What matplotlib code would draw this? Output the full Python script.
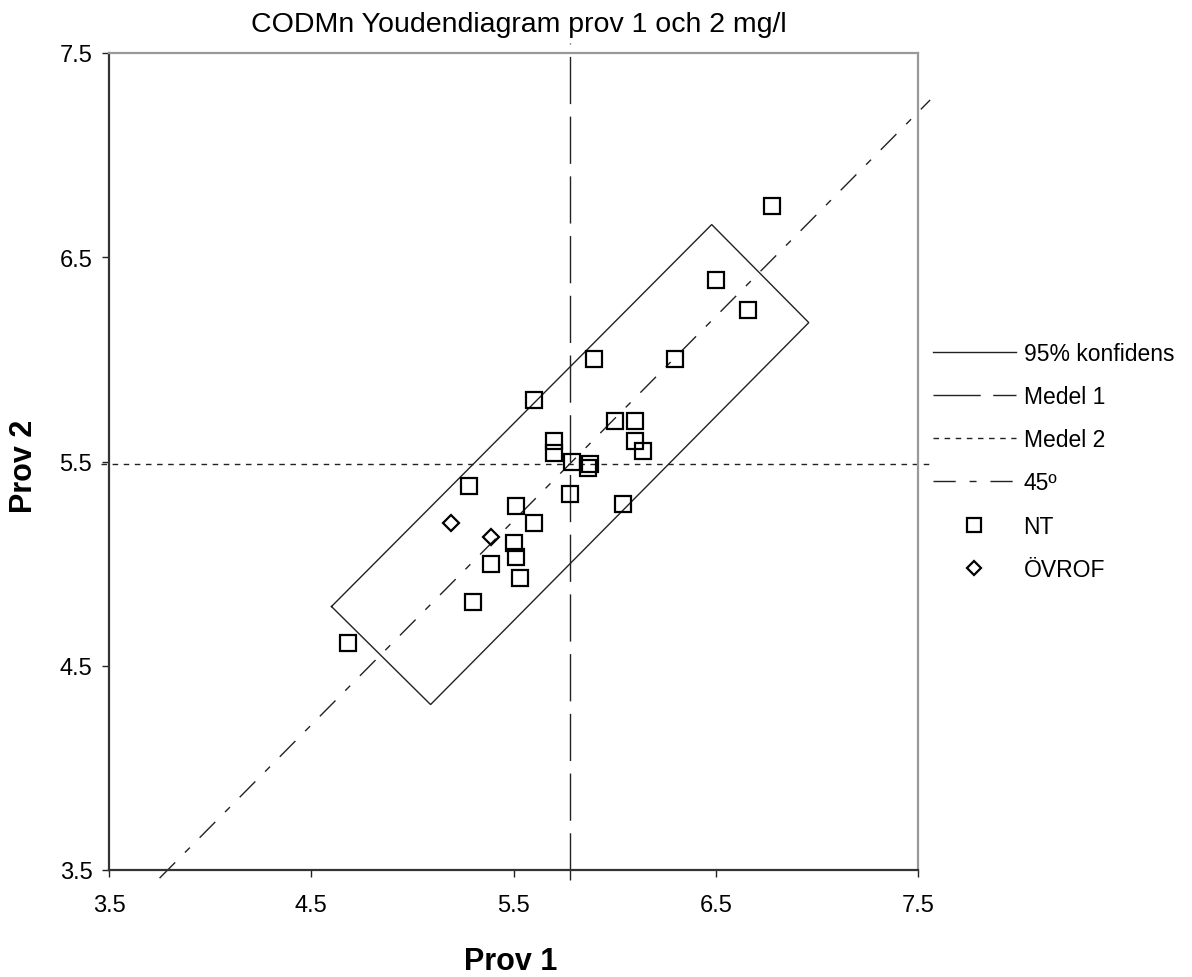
import matplotlib
matplotlib.use("Agg")
import matplotlib.pyplot as plt

plt.rcParams['font.family'] = ['Liberation Sans', 'DejaVu Sans']

# ---------------- data ----------------
title = "CODMn Youdendiagram prov 1 och 2 mg/l"
xlabel = "Prov 1"
ylabel = "Prov 2"
ticks = [3.5, 4.5, 5.5, 6.5, 7.5]
tick_labels = ["3.5", "4.5", "5.5", "6.5", "7.5"]

nt_x = [6.78, 6.50, 6.66, 5.90, 6.30, 5.60, 6.00, 6.10, 5.70, 6.10, 5.70, 6.14,
        5.79, 5.88, 5.87, 5.78, 6.04, 5.28, 5.51, 5.60, 5.50, 5.51, 5.39, 5.53,
        5.30, 4.68]
nt_y = [6.75, 6.39, 6.24, 6.00, 6.00, 5.80, 5.70, 5.70, 5.60, 5.60, 5.54, 5.55,
        5.50, 5.49, 5.47, 5.34, 5.29, 5.38, 5.28, 5.20, 5.10, 5.03, 5.00, 4.93,
        4.81, 4.61]

ovrof_x = [5.19, 5.39]
ovrof_y = [5.20, 5.13]

medel1 = 5.78
medel2 = 5.49

conf_x = [4.60, 6.48, 6.96, 5.09, 4.60]
conf_y = [4.79, 6.66, 6.18, 4.31, 4.79]

line45_x = [3.75, 7.56]
medel1_y_range = [3.45, 7.55]
medel2_x_range = [3.46, 7.56]

labels = ["95% konfidens", "Medel 1", "Medel 2", "45º", "NT", "ÖVROF"]

# ---------------- figure ----------------
W, H = 1192, 978
fig = plt.figure(figsize=(W / 100, H / 100), dpi=100)
ax = fig.add_axes([109 / W, 1 - 871 / H, (918 - 109) / W, (871 - 54) / H])
ax.set_xlim(3.5, 7.5)
ax.set_ylim(3.5, 7.5)

dark = "#222222"
lw = 1.0

h_conf, = ax.plot(conf_x, conf_y, color=dark, lw=lw, solid_joinstyle='miter',
                  label=labels[0], zorder=2)
h_m1, = ax.plot([medel1, medel1], medel1_y_range, color=dark, lw=lw,
                dashes=(34, 9), label=labels[1], clip_on=False, zorder=2)
h_m2, = ax.plot(medel2_x_range, [medel2, medel2], color=dark, lw=lw,
                dashes=(4, 4), label=labels[2], clip_on=False, zorder=2)
off = medel1 - medel2
h_45, = ax.plot(line45_x, [v - off for v in line45_x], color=dark, lw=lw,
                dashes=(16, 10, 5, 10), label=labels[3], clip_on=False, zorder=2)
h_nt, = ax.plot(nt_x, nt_y, ls='none', marker='s', ms=12, mfc='none',
                mec='black', mew=1.6, label=labels[4], zorder=3)
h_ov, = ax.plot(ovrof_x, ovrof_y, ls='none', marker='D', ms=8.5, mfc='none',
                mec='black', mew=1.6, label=labels[5], zorder=3)

ax.tick_params(axis='both', direction='out', length=5, width=1, color=dark)
ax.tick_params(axis='x', pad=12)
ax.tick_params(axis='y', pad=7)
ax.set_xticks(ticks)
ax.set_xticklabels(tick_labels, fontsize=17)
ax.set_yticks(ticks)
ax.set_yticklabels(tick_labels, fontsize=17)

for s in ['left', 'bottom']:
    ax.spines[s].set_color('#333333')
    ax.spines[s].set_linewidth(1.6)
for s in ['top', 'right']:
    ax.spines[s].set_color('#999999')
    ax.spines[s].set_linewidth(1.6)

fig.text(519 / W, 1 - 32 / H, title, ha='center', va='baseline', fontsize=20.5)
fig.text(511 / W, 1 - 970 / H, xlabel, ha='center', va='baseline',
         fontsize=22, fontweight='bold')
fig.text(24.5 / W, 1 - 466 / H, ylabel, ha='center', va='center',
         rotation=90, fontsize=22, fontweight='bold')

leg = ax.legend(handles=[h_conf, h_m1, h_m2, h_45, h_nt, h_ov],
                loc='upper left', bbox_to_anchor=(933 / W, 1 - 343 / H),
                bbox_transform=fig.transFigure, frameon=False, fontsize=16.5,
                borderpad=0, borderaxespad=0, handlelength=3.6,
                handletextpad=0.35, labelspacing=0.88, markerscale=0.85)

fig.savefig("out.png", dpi=100)
